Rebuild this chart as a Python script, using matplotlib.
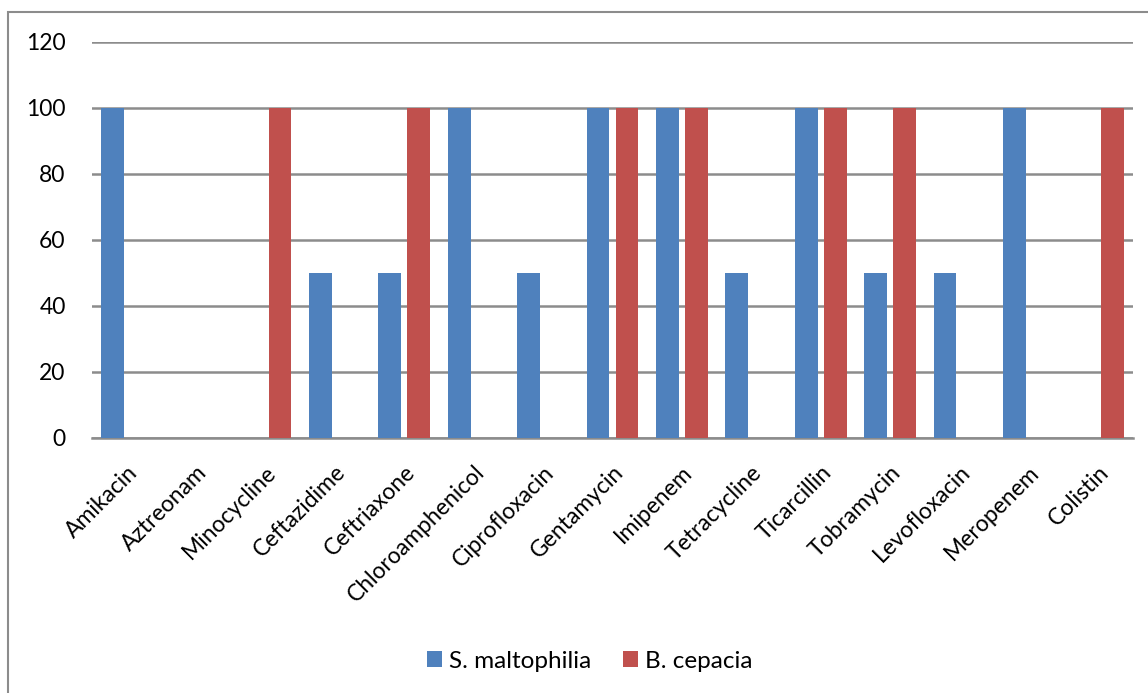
import numpy as np
import matplotlib
matplotlib.use("Agg")
import matplotlib.pyplot as plt
from matplotlib.patches import Rectangle

plt.rcParams['font.family'] = ['Lato', 'DejaVu Sans']

drugs = ['Amikacin', 'Aztreonam', 'Minocycline', 'Ceftazidime', 'Ceftriaxone',
         'Chloroamphenicol', 'Ciprofloxacin', 'Gentamycin', 'Imipenem',
         'Tetracycline', 'Ticarcillin', 'Tobramycin', 'Levofloxacin',
         'Meropenem', 'Colistin']
s_maltophilia = [100, 0, 0, 50, 50, 100, 50, 100, 100, 50, 100, 50, 50, 100, 0]
b_cepacia = [0, 0, 100, 0, 100, 0, 0, 100, 100, 0, 100, 100, 0, 0, 100]

fig = plt.figure(figsize=(11.48, 6.93), dpi=100)

# outer chart frame
fig.patches.append(Rectangle((8/1148, -0.05), 1.1, 1 - 12/693 + 0.05,
                             transform=fig.transFigure, fill=False,
                             edgecolor='#8c8c8c', linewidth=1.5))

ax = fig.add_axes([92/1148, 1 - 438/693, 1041/1148, 396/693])
x = np.arange(len(drugs))
w = 0.331
ax.bar(x - 0.209, s_maltophilia, w, color='#4F81BD', label='S. maltophilia', zorder=3)
ax.bar(x + 0.209, b_cepacia, w, color='#C0504D', label='B. cepacia', zorder=3)

ax.set_xlim(-0.5, len(drugs) - 0.5)
ax.set_ylim(0, 120)
ax.set_yticks(range(0, 121, 20))
ax.yaxis.grid(True, color='#8c8c8c', linewidth=1.8, zorder=0)
ax.set_axisbelow(True)
for s in ['top', 'right', 'left']:
    ax.spines[s].set_visible(False)
ax.spines['bottom'].set_color('#8c8c8c')
ax.spines['bottom'].set_linewidth(1.8)
ax.tick_params(axis='y', length=0, pad=19, labelsize=16.5)
ax.tick_params(axis='x', length=0, pad=17, labelsize=16.5)
ax.set_xticks(x)
ax.set_xticklabels(drugs, rotation=45, ha='right', rotation_mode='anchor')

fig.legend(loc='center', bbox_to_anchor=(590/1148, 1 - 661/693), ncol=2,
           frameon=False, fontsize=17.5, handlelength=0.6, handleheight=0.6,
           columnspacing=1.3, handletextpad=0.3)

fig.savefig('out.png', dpi=100)
